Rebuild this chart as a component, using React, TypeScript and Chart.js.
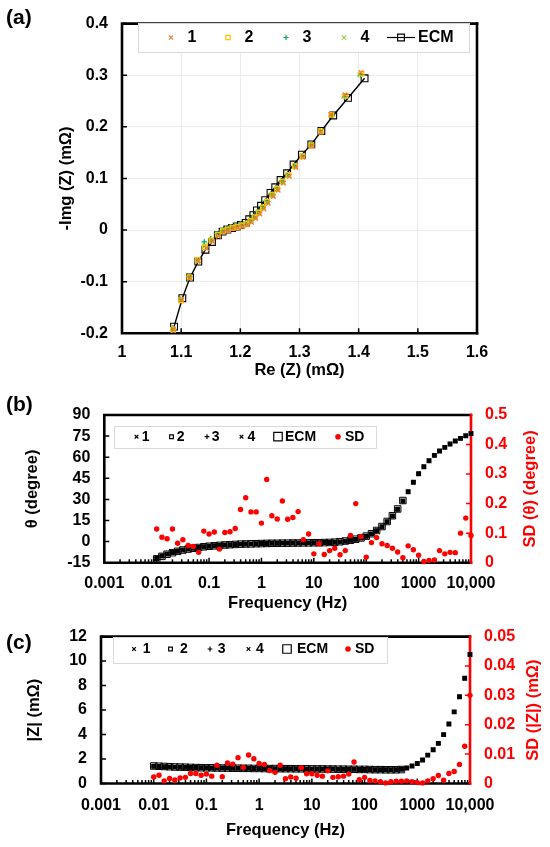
import React, { useEffect, useRef } from 'react';
import { Chart, registerables } from 'chart.js';
import { drawPoint } from 'chart.js/helpers';

Chart.register(...registerables);

const FONT = '"Liberation Sans", Arial, sans-serif';
const RED = '#ff0000';

// ---------- (a) Nyquist plot, Re / -Im in mOhm ----------
const ecmRe = [1.410, 1.382, 1.357, 1.337, 1.320, 1.304, 1.290, 1.279, 1.268, 1.259, 1.251, 1.242, 1.235, 1.228, 1.222,
  1.215, 1.209, 1.201, 1.194, 1.186, 1.178, 1.170, 1.162, 1.152, 1.141, 1.129, 1.115, 1.102, 1.088];
const ecmIm = [0.294, 0.256, 0.222, 0.192, 0.166, 0.146, 0.127, 0.110, 0.097, 0.083, 0.072, 0.058, 0.047, 0.038, 0.029,
  0.021, 0.014, 0.010, 0.007, 0.004, 0.001, -0.003, -0.010, -0.023, -0.038, -0.061, -0.092, -0.132, -0.187];

const run1Re = [1.404, 1.377, 1.353, 1.336, 1.321, 1.306, 1.294, 1.283, 1.273, 1.264, 1.256, 1.247, 1.240, 1.233, 1.226,
  1.219, 1.212, 1.204, 1.196, 1.188, 1.180, 1.172, 1.163, 1.153, 1.143, 1.129, 1.115, 1.101, 1.087];
const run1Im = [0.305, 0.262, 0.224, 0.190, 0.163, 0.141, 0.121, 0.104, 0.091, 0.077, 0.065, 0.052, 0.041, 0.031, 0.023,
  0.015, 0.010, 0.007, 0.005, 0.003, 0.000, -0.004, -0.012, -0.022, -0.036, -0.060, -0.093, -0.135, -0.192];
const run2Re = [1.405, 1.378, 1.354, 1.336, 1.320, 1.305, 1.292, 1.281, 1.271, 1.262, 1.254, 1.245, 1.238, 1.231, 1.224,
  1.217, 1.210, 1.203, 1.195, 1.187, 1.179, 1.171, 1.162, 1.151, 1.140, 1.128, 1.114, 1.100, 1.086];
const run2Im = [0.303, 0.260, 0.223, 0.191, 0.164, 0.143, 0.124, 0.107, 0.094, 0.080, 0.068, 0.055, 0.044, 0.034, 0.025,
  0.018, 0.012, 0.009, 0.006, 0.004, 0.001, -0.002, -0.009, -0.020, -0.033, -0.058, -0.091, -0.136, -0.193];
const run3Re = [1.403, 1.376, 1.355, 1.335, 1.319, 1.305, 1.292, 1.280, 1.270, 1.261, 1.252, 1.244, 1.237, 1.230, 1.223,
  1.216, 1.209, 1.201, 1.193, 1.185, 1.177, 1.169, 1.160, 1.150, 1.139, 1.127, 1.113, 1.099, 1.086];
const run3Im = [0.300, 0.258, 0.222, 0.193, 0.165, 0.144, 0.125, 0.108, 0.095, 0.082, 0.070, 0.057, 0.046, 0.036, 0.027,
  0.019, 0.014, 0.011, 0.009, 0.006, 0.003, -0.001, -0.007, -0.017, -0.023, -0.059, -0.090, -0.134, -0.190];
const run4Re = [1.402, 1.375, 1.354, 1.336, 1.320, 1.304, 1.291, 1.282, 1.272, 1.263, 1.255, 1.246, 1.239, 1.232, 1.225,
  1.218, 1.211, 1.203, 1.195, 1.186, 1.178, 1.170, 1.161, 1.151, 1.141, 1.128, 1.114, 1.100, 1.087];
const run4Im = [0.301, 0.259, 0.224, 0.192, 0.166, 0.142, 0.123, 0.106, 0.093, 0.079, 0.067, 0.054, 0.043, 0.033, 0.024,
  0.017, 0.012, 0.012, 0.010, 0.007, 0.004, 0.000, -0.008, -0.019, -0.030, -0.061, -0.094, -0.137, -0.194];

const reTicks = [1, 1.1, 1.2, 1.3, 1.4, 1.5, 1.6];
const imTicks = [-0.2, -0.1, 0, 0.1, 0.2, 0.3, 0.4];

// ---------- (b),(c) Bode plots ----------
const freq = [0.01, 0.0126, 0.0158, 0.02, 0.0251, 0.0316, 0.0398, 0.0501, 0.0631, 0.0794,
  0.1, 0.126, 0.158, 0.2, 0.251, 0.316, 0.398, 0.501, 0.631, 0.794,
  1, 1.26, 1.58, 2, 2.51, 3.16, 3.98, 5.01, 6.31, 7.94,
  10, 12.6, 15.8, 20, 25.1, 31.6, 39.8, 50.1, 63.1, 79.4,
  100, 126, 158, 200, 251, 316, 398, 501, 631, 794,
  1000, 1260, 1580, 2000, 2510, 3160, 3980, 5010, 6310, 7940, 10000];

const thetaMeas = [-12.0, -10.3, -8.9, -7.8, -6.8, -6.0, -5.3, -4.7, -4.2, -3.7,
  -3.3, -3.0, -2.7, -2.4, -2.2, -2.0, -1.8, -1.7, -1.6, -1.5,
  -1.4, -1.3, -1.2, -1.2, -1.1, -1.1, -1.0, -1.0, -0.9, -0.9,
  -0.8, -0.8, -0.7, -0.6, -0.5, -0.2, 0.3, 0.9, 1.6, 2.5,
  3.8, 5.5, 7.8, 10.6, 14.2, 18.2, 23.0, 28.9, 35.5, 42.2,
  48.3, 53.2, 57.5, 61.3, 64.4, 67.0, 69.4, 71.5, 73.4, 75.2, 76.8];
const thetaEcm = [-12.3, -10.5, -9.0, -7.9, -6.9, -6.0, -5.3, -4.7, -4.2, -3.7,
  -3.3, -3.0, -2.7, -2.4, -2.2, -2.0, -1.8, -1.7, -1.6, -1.5,
  -1.4, -1.3, -1.2, -1.2, -1.1, -1.1, -1.0, -1.0, -0.9, -0.9,
  -0.8, -0.8, -0.7, -0.6, -0.4, -0.1, 0.4, 1.0, 1.7, 2.6,
  3.9, 5.6, 7.9, 10.7, 14.3, 18.4, 23.2, 29.2];
const sdTheta = [0.114, 0.086, 0.081, 0.114, 0.066, 0.078, 0.058, 0.055, 0.035, 0.107,
  0.097, 0.104, 0.046, 0.102, 0.105, 0.116, 0.180, 0.220, 0.172, 0.172,
  0.134, 0.282, 0.159, 0.148, 0.209, 0.147, 0.153, 0.173, 0.078, 0.097,
  0.030, 0.064, 0.028, 0.041, 0.049, 0.027, 0.041, 0.092, 0.200, 0.088,
  0.019, 0.068, 0.085, 0.064, 0.058, 0.049, 0.036, 0.017, 0.057, 0.044,
  0.025, 0.004, 0.008, 0.009, 0.041, 0.030, 0.035, 0.034, 0.100, 0.151, 0.092];

const zMeas = [1.41, 1.39, 1.37, 1.36, 1.34, 1.33, 1.32, 1.31, 1.30, 1.29,
  1.28, 1.27, 1.27, 1.26, 1.26, 1.25, 1.25, 1.24, 1.24, 1.23,
  1.23, 1.22, 1.22, 1.21, 1.21, 1.21, 1.20, 1.20, 1.20, 1.19,
  1.19, 1.19, 1.18, 1.18, 1.18, 1.17, 1.17, 1.16, 1.16, 1.15,
  1.15, 1.14, 1.13, 1.13, 1.12, 1.12, 1.13, 1.17, 1.27, 1.43,
  1.63, 1.92, 2.32, 2.76, 3.28, 3.99, 4.86, 5.85, 7.08, 8.60, 10.54];
const zEcm = [1.43, 1.41, 1.39, 1.37, 1.35, 1.34, 1.33, 1.31, 1.30, 1.29,
  1.28, 1.28, 1.27, 1.26, 1.26, 1.25, 1.25, 1.24, 1.24, 1.23,
  1.23, 1.22, 1.22, 1.22, 1.21, 1.21, 1.21, 1.20, 1.20, 1.20,
  1.19, 1.19, 1.19, 1.18, 1.18, 1.17, 1.17, 1.16, 1.16, 1.15,
  1.15, 1.14, 1.13, 1.13, 1.12, 1.12, 1.12, 1.14];
const sdZ = [0.0022, 0.0028, 0.0009, 0.0017, 0.0012, 0.0019, 0.0021, 0.0034, 0.0034, 0.0028,
  0.0032, 0.0025, 0.0062, 0.0023, 0.0070, 0.0066, 0.0088, 0.0055, 0.0097, 0.0084,
  0.0068, 0.0065, 0.0044, 0.0038, 0.0062, 0.0016, 0.0022, 0.0018, 0.0054, 0.0033,
  0.0033, 0.0028, 0.0025, 0.0043, 0.0021, 0.0023, 0.0025, 0.0032, 0.0073, 0.0013,
  0.0021, 0.0010, 0.0009, 0.0006, 0.0002, 0.0006, 0.0008, 0.0008, 0.0009, 0.0006,
  0.0003, 0.0002, 0.0009, 0.0016, 0.0027, 0.0011, 0.0034, 0.0041, 0.0065, 0.0127, 0.0300];

const freqTicks = [0.001, 0.01, 0.1, 1, 10, 100, 1000, 10000];
const freqTickLabels = ['0.001', '0.01', '0.1', '1', '10', '100', '1000', '10,000'];
const thetaTicks = [-15, 0, 15, 30, 45, 60, 75, 90];
const sdThetaTicks = [0, 0.1, 0.2, 0.3, 0.4, 0.5];
const zTicks = [0, 2, 4, 6, 8, 10, 12];
const sdZTicks = [0, 0.01, 0.02, 0.03, 0.04, 0.05];

const pts = (xs: number[], ys: number[]) => ys.map((y, i) => ({ x: xs[i], y }));
const fixTicks = (vals: number[]) => (s: any) => { s.ticks = vals.map((v) => ({ value: v })); };
const round = (d: number) => (v: any) => String(Math.round(v * d) / d);

const tickFont = { family: FONT, size: 16, weight: 'bold' as const };
const titleFont = { family: FONT, size: 16.5, weight: 'bold' as const };

type Mark = { style: string; color: string; r: number; fill?: boolean; line?: number; mx: number; label: string; tx: number };
type Decor = {
  tag: string; tagY: number;
  box: number[]; legendY: number; legendSize: number; marks: Mark[];
  rightColor: string; rightTitle?: string; rightTitleX?: number;
  minorLog?: boolean;
};

function decorPlugin(d: Decor) {
  return {
    id: 'decor',
    beforeDatasetsDraw(chart: any) {
      const { ctx, chartArea: a, scales } = chart;
      ctx.save();
      // inner tick marks
      ctx.lineWidth = 1.5;
      ctx.strokeStyle = '#000';
      ctx.beginPath();
      scales.x.ticks.forEach((t: any) => {
        const p = scales.x.getPixelForValue(t.value);
        ctx.moveTo(p, a.bottom); ctx.lineTo(p, a.bottom - 5);
      });
      if (d.minorLog) {
        for (let i = 0; i < freqTicks.length - 1; i++) {
          for (let k = 2; k < 10; k++) {
            const p = scales.x.getPixelForValue(freqTicks[i] * k);
            ctx.moveTo(p, a.bottom); ctx.lineTo(p, a.bottom - 3.5);
          }
        }
      }
      scales.y.ticks.forEach((t: any) => {
        const p = scales.y.getPixelForValue(t.value);
        ctx.moveTo(a.left, p); ctx.lineTo(a.left + 5, p);
      });
      ctx.stroke();
      if (scales.y1) {
        ctx.strokeStyle = d.rightColor;
        ctx.beginPath();
        scales.y1.ticks.forEach((t: any) => {
          const p = scales.y1.getPixelForValue(t.value);
          ctx.moveTo(a.right, p); ctx.lineTo(a.right - 5, p);
        });
        ctx.stroke();
      }
      // frame
      ctx.lineWidth = 2.6;
      ctx.lineCap = 'square';
      ctx.strokeStyle = '#000';
      ctx.beginPath();
      ctx.moveTo(a.right, a.top); ctx.lineTo(a.left, a.top);
      ctx.lineTo(a.left, a.bottom); ctx.lineTo(a.right, a.bottom);
      ctx.stroke();
      ctx.strokeStyle = d.rightColor;
      ctx.beginPath();
      ctx.moveTo(a.right, a.top); ctx.lineTo(a.right, a.bottom);
      ctx.stroke();
      ctx.restore();
    },
    afterDraw(chart: any) {
      const { ctx, chartArea: a } = chart;
      ctx.save();
      // legend box
      const [bx, by, bw, bh] = d.box;
      ctx.fillStyle = '#fff';
      ctx.fillRect(bx, by, bw, bh);
      ctx.strokeStyle = '#d9d9d9';
      ctx.lineWidth = 1;
      ctx.strokeRect(bx + 0.5, by + 0.5, bw, bh);
      ctx.font = `bold ${d.legendSize}px ${FONT}`;
      ctx.textBaseline = 'middle';
      ctx.textAlign = 'left';
      d.marks.forEach((m) => {
        ctx.strokeStyle = m.color;
        ctx.fillStyle = m.fill ? m.color : 'rgba(0,0,0,0)';
        ctx.lineWidth = m.fill ? 0 : 1.2;
        if (m.line) {
          ctx.beginPath();
          ctx.moveTo(m.mx - m.line / 2, d.legendY); ctx.lineTo(m.mx + m.line / 2, d.legendY);
          ctx.stroke();
        }
        drawPoint(ctx, { pointStyle: m.style, radius: m.r, rotation: 0, borderWidth: m.fill ? 0 : 1.2 } as any, m.mx, d.legendY);
        ctx.fillStyle = '#000';
        ctx.fillText(m.label, m.tx, d.legendY);
      });
      // panel tag
      ctx.font = `bold 21px ${FONT}`;
      ctx.fillStyle = '#000';
      ctx.fillText(d.tag, 6, d.tagY);
      // right axis title, reading bottom to top
      if (d.rightTitle) {
        ctx.translate(d.rightTitleX as number, (a.top + a.bottom) / 2);
        ctx.rotate(-Math.PI / 2);
        ctx.textAlign = 'center';
        ctx.fillStyle = d.rightColor;
        ctx.font = `bold 16.5px ${FONT}`;
        ctx.fillText(d.rightTitle, 0, 0);
      }
      ctx.restore();
    },
  };
}

const runStyles = ['crossRot', 'rect', 'cross', 'crossRot'];

function nyquistConfig(): any {
  const colors = ['#ed7d31', '#ffc000', '#00b050', '#92d050'];
  const runs = [pts(run1Re, run1Im), pts(run2Re, run2Im), pts(run3Re, run3Im), pts(run4Re, run4Im)];
  const datasets: any[] = runs.map((data, i) => ({
    label: String(i + 1), data, pointStyle: runStyles[i], pointRadius: i === 2 ? 2.8 : 3.2,
    borderColor: colors[i], backgroundColor: 'rgba(0,0,0,0)', pointBorderWidth: 1.3, clip: false,
  }));
  datasets.push({
    label: 'ECM', data: pts(ecmRe, ecmIm), showLine: true, borderColor: '#000', borderWidth: 1.4,
    pointStyle: 'rect', pointRadius: 4.8, pointBorderWidth: 1.1, backgroundColor: 'rgba(0,0,0,0)', clip: false,
  });
  return {
    type: 'scatter',
    data: { datasets },
    options: {
      animation: false, responsive: false,
      layout: { padding: { left: 0, top: 14, right: 73, bottom: 9.6 } },
      plugins: { legend: { display: false }, tooltip: { enabled: false } },
      scales: {
        x: {
          type: 'linear', min: 1, max: 1.6, afterBuildTicks: fixTicks(reTicks),
          afterFit: (s: any) => { s.height = 47.1; },
          grid: { color: '#ebebeb', drawTicks: false }, border: { display: false },
          ticks: { font: tickFont, color: '#000', padding: 10, maxRotation: 0, autoSkip: false, callback: round(10) },
          title: { display: true, text: 'Re (Z) (mΩ)', font: titleFont, color: '#000', padding: 0 },
        },
        y: {
          type: 'linear', min: -0.2, max: 0.4, afterBuildTicks: fixTicks(imTicks),
          afterFit: (s: any) => { s.width = 122; },
          grid: { color: '#ebebeb', drawTicks: false }, border: { display: false },
          ticks: { font: tickFont, color: '#000', padding: 14, autoSkip: false, callback: round(10) },
          title: { display: true, text: '-Img (Z) (mΩ)', font: titleFont, color: '#000', padding: { top: 57, bottom: 0 } },
        },
      },
    },
    plugins: [decorPlugin({
      tag: '(a)', tagY: 18, box: [138, 23, 331, 29], legendY: 37.5, legendSize: 16, rightColor: '#000',
      marks: [
        { style: 'crossRot', color: colors[0], r: 3, mx: 171, label: '1', tx: 187.5 },
        { style: 'rect', color: colors[1], r: 3, mx: 228, label: '2', tx: 244.5 },
        { style: 'cross', color: colors[2], r: 2.6, mx: 286, label: '3', tx: 302.5 },
        { style: 'crossRot', color: colors[3], r: 3, mx: 344, label: '4', tx: 360.5 },
        { style: 'rect', color: '#000', r: 4.8, line: 28, mx: 401, label: 'ECM', tx: 418 },
      ],
    })],
  };
}

type BodeSpec = {
  meas: number[]; ecm: number[]; sd: number[];
  yMin: number; yMax: number; yTicks: number[]; yTitle: string; yDec: number;
  sdMax: number; sdTicks: number[]; sdDec: number; sdTitle: string;
  left: number; right: number; top: number; xHeight: number; bottomPad: number; labelPad: number;
  yTitlePad: number; rightTitleX: number; decor: Omit<Decor, 'rightColor' | 'rightTitle' | 'rightTitleX' | 'minorLog'>;
};

function bodeConfig(b: BodeSpec): any {
  const measRadius = [2.4, 2.5, 1.8, 2.4];
  const datasets: any[] = [
    { label: 'SD', data: pts(freq, b.sd), yAxisID: 'y1', pointStyle: 'circle', pointRadius: 2.7,
      backgroundColor: RED, borderColor: RED, pointBorderWidth: 0, clip: false },
    { label: 'ECM', data: pts(freq, b.ecm), yAxisID: 'y', pointStyle: 'rect', pointRadius: 4.6,
      borderColor: '#000', backgroundColor: 'rgba(0,0,0,0)', pointBorderWidth: 1, clip: false },
  ];
  runStyles.forEach((st, i) => datasets.push({
    label: String(i + 1), data: pts(freq, b.meas), yAxisID: 'y', pointStyle: st, pointRadius: measRadius[i],
    borderColor: '#000', backgroundColor: 'rgba(0,0,0,0)', pointBorderWidth: 1.4, clip: false,
  }));
  return {
    type: 'scatter',
    data: { datasets },
    options: {
      animation: false, responsive: false,
      layout: { padding: { left: 0, top: b.top, right: 0, bottom: b.bottomPad } },
      plugins: { legend: { display: false }, tooltip: { enabled: false } },
      scales: {
        x: {
          type: 'logarithmic', min: 0.001, max: 10000, afterBuildTicks: fixTicks(freqTicks),
          afterFit: (s: any) => { s.height = b.xHeight; },
          grid: { display: false, drawTicks: false }, border: { display: false },
          ticks: { font: tickFont, color: '#000', padding: b.labelPad, maxRotation: 0, autoSkip: false,
            callback: (_v: any, i: number) => freqTickLabels[i] },
          title: { display: true, text: 'Frequency (Hz)', font: titleFont, color: '#000', padding: 0 },
        },
        y: {
          type: 'linear', position: 'left', min: b.yMin, max: b.yMax, afterBuildTicks: fixTicks(b.yTicks),
          afterFit: (s: any) => { s.width = b.left; },
          grid: { display: false, drawTicks: false }, border: { display: false },
          ticks: { font: tickFont, color: '#000', padding: 14, autoSkip: false, callback: round(b.yDec) },
          title: { display: true, text: b.yTitle, font: titleFont, color: '#000', padding: { top: b.yTitlePad, bottom: 0 } },
        },
        y1: {
          type: 'linear', position: 'right', min: 0, max: b.sdMax, afterBuildTicks: fixTicks(b.sdTicks),
          afterFit: (s: any) => { s.width = 550 - b.right; },
          grid: { display: false, drawTicks: false }, border: { display: false },
          ticks: { font: tickFont, color: RED, padding: 14, autoSkip: false, callback: round(b.sdDec) },
        },
      },
    },
    plugins: [decorPlugin({ ...b.decor, rightColor: RED, rightTitle: b.sdTitle, rightTitleX: b.rightTitleX, minorLog: true })],
  };
}

const bodeMarks = (xs: number[], ts: number[]): Mark[] => [
  { style: 'crossRot', color: '#000', r: 2.6, mx: xs[0], label: '1', tx: ts[0] },
  { style: 'rect', color: '#000', r: 2.6, mx: xs[1], label: '2', tx: ts[1] },
  { style: 'cross', color: '#000', r: 2.4, mx: xs[2], label: '3', tx: ts[2] },
  { style: 'crossRot', color: '#000', r: 2.6, mx: xs[3], label: '4', tx: ts[3] },
  { style: 'rect', color: '#000', r: 6, mx: xs[4], label: 'ECM', tx: ts[4] },
  { style: 'circle', color: RED, r: 2.8, fill: true, mx: xs[5], label: 'SD', tx: ts[5] },
];

function phaseConfig() {
  return bodeConfig({
    meas: thetaMeas, ecm: thetaEcm, sd: sdTheta,
    yMin: -15, yMax: 90, yTicks: thetaTicks, yTitle: 'θ (degree)', yDec: 1,
    sdMax: 0.5, sdTicks: sdThetaTicks, sdDec: 10, sdTitle: 'SD (θ) (degree)',
    left: 104.3, right: 471, top: 25, xHeight: 50.3, bottomPad: 0, labelPad: 11,
    yTitlePad: 23, rightTitleX: 530,
    decor: {
      tag: '(b)', tagY: 15, box: [114, 36, 262, 22], legendY: 46.7, legendSize: 14,
      marks: bodeMarks([136.5, 171.5, 207, 241.5, 278, 338], [141.7, 176.7, 211.7, 247.5, 285, 345]),
    },
  });
}

function modulusConfig() {
  return bodeConfig({
    meas: zMeas, ecm: zEcm, sd: sdZ,
    yMin: 0, yMax: 12, yTicks: zTicks, yTitle: '|Z| (mΩ)', yDec: 1,
    sdMax: 0.05, sdTicks: sdZTicks, sdDec: 100, sdTitle: 'SD (|Z|) (mΩ)',
    left: 101, right: 470, top: 17.7, xHeight: 56.5, bottomPad: 7, labelPad: 12.9,
    yTitlePad: 25, rightTitleX: 533,
    decor: {
      tag: '(c)', tagY: 30, box: [113, 24, 274, 26], legendY: 36, legendSize: 14,
      marks: bodeMarks([134, 170.5, 210, 248.5, 287, 348], [142.8, 180, 217.7, 256, 297, 355]),
    },
  });
}

function Panel({ top, height, make }: { top: number; height: number; make: () => any }) {
  const ref = useRef<HTMLCanvasElement>(null);
  useEffect(() => {
    if (!ref.current) return;
    const chart = new Chart(ref.current, make());
    return () => chart.destroy();
  }, [make]);
  return (
    <canvas ref={ref} width={550} height={height}
      style={{ position: 'absolute', left: 0, top, width: 550, height, display: 'block' }} />
  );
}

export default function App() {
  return (
    <div style={{ position: 'absolute', left: 0, top: 0, width: 550, height: 847, background: '#fff', overflow: 'hidden' }}>
      <Panel top={0} height={390} make={nyquistConfig} />
      <Panel top={390} height={223} make={phaseConfig} />
      <Panel top={613} height={234} make={modulusConfig} />
    </div>
  );
}
